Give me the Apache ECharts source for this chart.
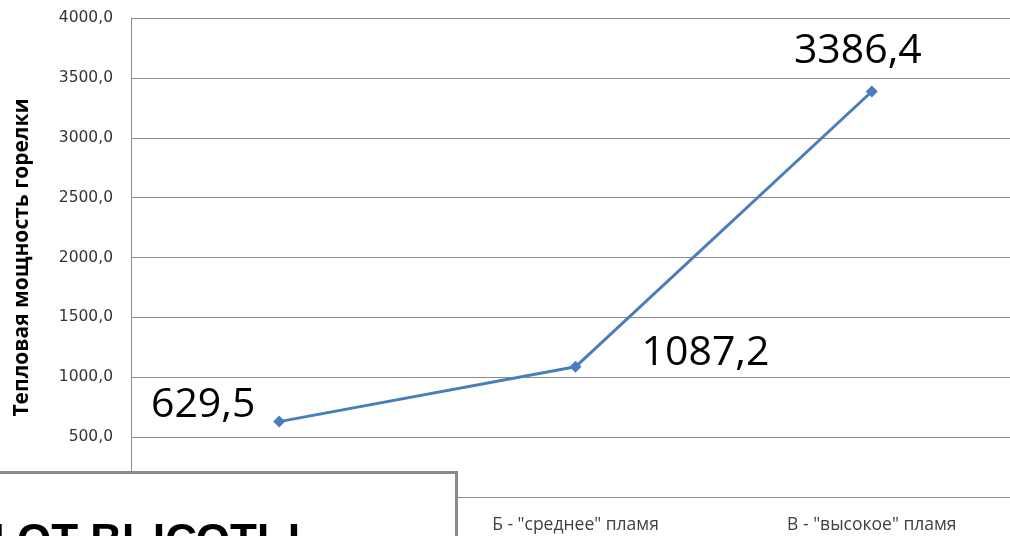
<!DOCTYPE html>
<html>
<head>
<meta charset="utf-8">
<script src="https://cdn.jsdelivr.net/npm/echarts@6/dist/echarts.min.js"></script>
<style>
  html, body { margin: 0; padding: 0; background: #ffffff; }
  #chart { width: 1010px; height: 536px; }
</style>
</head>
<body>
<div id="chart"></div>
<script>
// Flame height categories
const categories = ['А - "низкое" пламя', 'Б - "среднее" пламя', 'В - "высокое" пламя'];
// Burner heat output for each flame height
const heatPower = [629.5, 1087.2, 3386.4];
// Value axis range
const yMin = 0;
const yMax = 4000;
const yStep = 500;

const fmt = v => v.toFixed(1).replace('.', ',');

// Per-point label placement around each marker
const labelOffsets = [[-76, -16], [130, -13], [-14, -40]];

const chart = echarts.init(document.getElementById('chart'), null, { renderer: 'canvas' });

chart.setOption({
  backgroundColor: '#ffffff',
  animation: false,
  // plot area runs slightly past the right edge of the canvas
  grid: {
    left: 131, top: 18, width: 889, height: 479,
    containLabel: false,
    outerBoundsMode: 'none'
  },
  xAxis: {
    type: 'category',
    data: categories,
    boundaryGap: true,
    axisLine: { show: true, lineStyle: { color: '#8c8c8c', width: 1 } },
    axisTick: { show: false },
    axisLabel: {
      color: '#404040',
      fontFamily: 'Open Sans',
      fontSize: 17.5,
      margin: 19
    },
    splitLine: { show: false }
  },
  yAxis: {
    type: 'value',
    min: yMin,
    max: yMax,
    interval: yStep,
    name: 'Тепловая мощность горелки',
    nameLocation: 'middle',
    nameRotate: 90,
    nameGap: 98,
    nameTextStyle: {
      color: '#000000',
      fontFamily: 'Open Sans',
      fontWeight: 'bold',
      fontSize: 21
    },
    axisLine: { show: true, lineStyle: { color: '#8c8c8c', width: 1 } },
    axisTick: { show: false },
    axisLabel: {
      color: '#333333',
      fontFamily: 'DejaVu Sans',
      fontSize: 15.5,
      margin: 18,
      formatter: v => fmt(v)
    },
    splitLine: { show: true, lineStyle: { color: '#8c8c8c', width: 1 } }
  },
  series: [{
    type: 'line',
    data: heatPower.map((v, i) => ({
      value: v,
      label: { offset: labelOffsets[i] }
    })),
    symbol: 'diamond',
    symbolSize: 12,
    lineStyle: { color: '#4a7ebb', width: 3 },
    itemStyle: { color: '#4a7ebb' },
    label: {
      show: true,
      position: 'inside',
      align: 'center',
      verticalAlign: 'middle',
      color: '#000000',
      fontFamily: 'Open Sans',
      fontSize: 41,
      formatter: p => fmt(p.value)
    },
    z: 3
  }],
  graphic: [
    {
      type: 'rect',
      z: 100,
      shape: { x: -10, y: 472.5, width: 466.5, height: 100 },
      style: { fill: '#ffffff', stroke: '#8a8a8a', lineWidth: 3 }
    },
    {
      type: 'text',
      z: 101,
      x: 300,
      y: 521,
      style: {
        text: 'ЗАВИСИМОСТЬ МОЩНОСТИ ОТ ВЫСОТЫ',
        textAlign: 'right',
        textVerticalAlign: 'top',
        fill: '#000000',
        fontFamily: 'Liberation Sans',
        fontWeight: 'bold',
        fontSize: 44
      }
    }
  ]
});
</script>
</body>
</html>
